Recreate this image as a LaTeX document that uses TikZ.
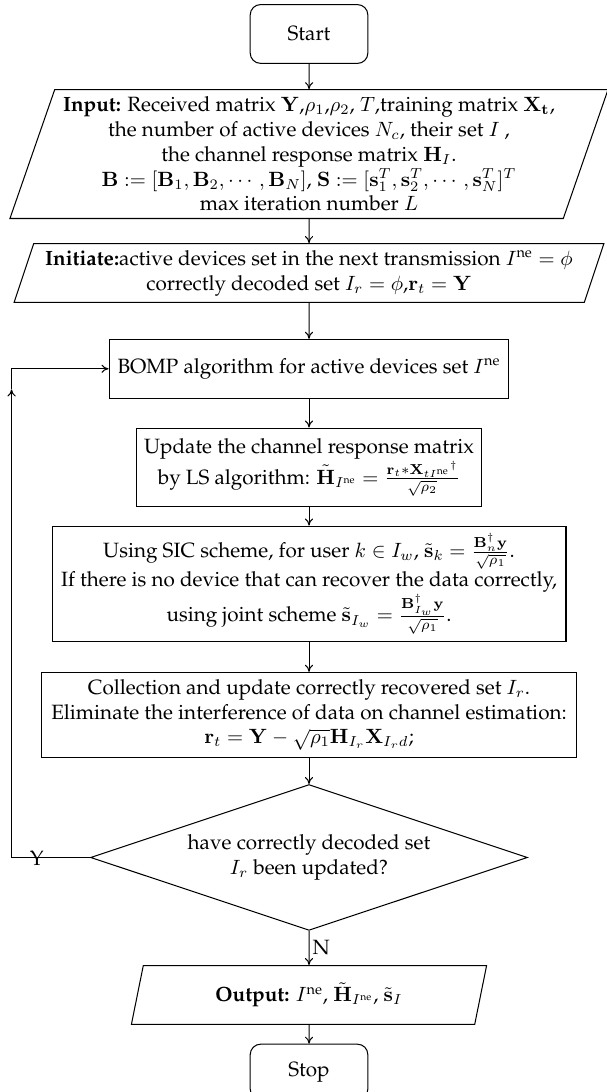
\documentclass[tikz,border=0pt]{standalone}
\usepackage[T1]{fontenc}
\usepackage{palatino}
\usepackage{amsmath}
\usepackage{amssymb}
\usepackage{tikz}
\usetikzlibrary{arrows.meta,positioning,shapes.geometric,calc}
\tikzset{
  fbox/.style={
    draw=black, line width=0.5pt, align=center, inner sep=3pt
  },
  term/.style={fbox, rounded corners=5pt, minimum width=2cm, minimum height=1cm},
  io/.style={
    fbox, trapezium, trapezium left angle=70, trapezium right angle=110,
    trapezium stretches body, inner sep=2pt
  },
  proc/.style={fbox, rectangle},
  cond/.style={fbox, diamond, aspect=3, inner sep=1pt},
  arr/.style={-{To[length=1.2mm,width=1.4mm]}, draw=black, line width=0.5pt},
  lbl/.style={inner sep=1.5pt}
}
\newcommand{\nesup}{\text{ne}}

\begin{document}
\begin{tikzpicture}[node distance=5mm]
  \useasboundingbox (0,0) rectangle (10.31,-18.57);
  \node[term] (start) at (5.255,-0.578) {Start};
  \node[io, below=0.43cm of start, minimum width=10.17cm, minimum height=2.19cm] (input)
    {\textbf{Input:} Received matrix $\mathbf{Y}$,$\rho_1$,$\rho_2$, $T$,training matrix $\mathbf{X_t}$,\\
     the number of active devices $N_c$, their set $I$ ,\\
     the channel response matrix $\mathbf{H}_I$.\\
     $\mathbf{B}:=[\mathbf{B}_1,\mathbf{B}_2,\cdots,\mathbf{B}_N]$, $\mathbf{S}:=[\mathbf{s}_1^T,\mathbf{s}_2^T,\cdots,\mathbf{s}_N^T]^T$\\
     max iteration number $L$};
  \node[io, below=0.41cm of input, minimum width=10.03cm, minimum height=1cm] (init)
    {\textbf{Initiate:}active devices set in the next transmission $I^{\nesup}=\phi$\\
     correctly decoded set $I_r=\phi$,$\mathbf{r}_t=\mathbf{Y}$};
  \node[proc, below=0.61cm of init, minimum width=6.8cm, minimum height=1cm] (bomp)
    {BOMP algorithm for active devices set $I^{\nesup}$};
  \node[proc, below=0.49cm of bomp, minimum width=5.88cm, minimum height=1.33cm] (ls)
    {Update the channel response matrix\\
     by LS algorithm: $\tilde{\mathbf{H}}_{I^{\nesup}}=\frac{\mathbf{r}_t*\mathbf{X}_{tI^{\nesup}}{}^{\dagger}}{\sqrt{\rho_2}}$};
  \node[proc, below=0.32cm of ls, minimum width=8.74cm, minimum height=1.96cm] (sic)
    {Using SIC scheme, for user $k\in I_w$, $\tilde{\mathbf{s}}_k=\frac{\mathbf{B}_n^{\dagger}\mathbf{y}}{\sqrt{\rho_1}}$.\\
     If there is no device that can recover the data correctly,\\
     using joint scheme $\tilde{\mathbf{s}}_{I_w}=\frac{\mathbf{B}_{I_w}^{\dagger}\mathbf{y}}{\sqrt{\rho_1}}$.};
  \node[proc, below=0.51cm of sic, minimum width=9.1cm, minimum height=1.45cm] (coll)
    {Collection and update correctly recovered set $I_r$.\\
     Eliminate the interference of data on channel estimation:\\
     $\mathbf{r}_t=\mathbf{Y}-\sqrt{\rho_1}\mathbf{H}_{I_r}\mathbf{X}_{I_rd}$;};
  \node[cond, below=0.44cm of coll, minimum width=7.43cm, minimum height=2.48cm] (upd)
    {have correctly decoded set\\ $I_r$ been updated?};
  \node[io, below=0.58cm of upd, minimum width=6.04cm, minimum height=1cm] (output)
    {\textbf{Output:} $I^{\nesup}$, $\tilde{\mathbf{H}}_{I^{\nesup}}$, $\tilde{\mathbf{s}}_I$};
  \node[term, below=0.32cm of output, minimum height=0.94cm] (stop) {Stop};

  % main line
  \draw[arr] (start) -- (input);
  \draw[arr] (input) -- (init);
  \draw[arr] (init) -- (bomp);
  \draw[arr] (bomp) -- (ls);
  \draw[arr] (ls) -- (sic);
  \draw[arr] (sic) -- (coll);
  \draw[arr] (coll) -- (upd);
  \draw[arr] (upd) -- node[lbl, right] (no) {N} (output);
  \draw[arr] (output) -- (stop);

  % back to BOMP when the set changed
  \coordinate (loop) at ([xshift=-1.65cm, yshift=-0.35cm]bomp.west);
  \draw[arr] (upd.west) -| node[lbl, pos=0.34, yshift=-0.5pt] (yes) {Y} (loop);
  \draw[arr] (loop) |- (bomp.west);
\end{tikzpicture}
\end{document}
